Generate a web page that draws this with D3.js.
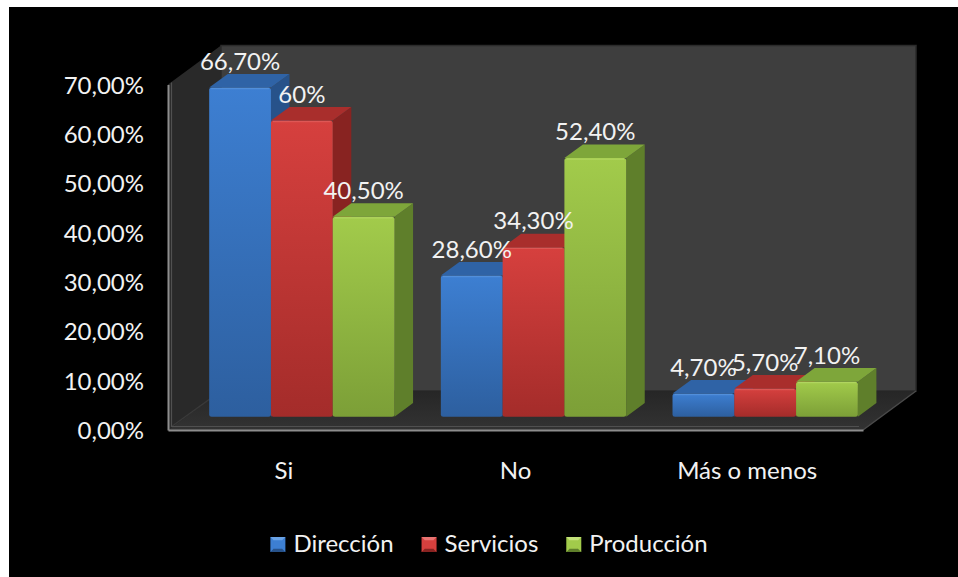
<!DOCTYPE html>
<html>
<head>
<meta charset="utf-8">
<script src="https://cdn.jsdelivr.net/npm/d3@7"></script>
<style>
  html, body { margin: 0; padding: 0; background: #ffffff; }
  svg { display: block; }
  text { font-family: Lato, "Open Sans", sans-serif; fill: #f2f2f2; }
</style>
</head>
<body>
<svg id="chart" width="958" height="577"></svg>
<script>
// ---- data ----
const categories = ["Si", "No", "Más o menos"];
const seriesNames = ["Dirección", "Servicios", "Producción"];
const direccion = [66.7, 28.6, 4.7];
const servicios = [60, 34.3, 5.7];
const produccion = [40.5, 52.4, 7.1];
const yTicks = [0, 10, 20, 30, 40, 50, 60, 70];

const seriesValues = [direccion, servicios, produccion];

// face colours per series: front gradient top/bottom, top face, side face, legend light
const palette = [
  { top: "#3d7fd2", bottom: "#2d5f9f", cap: "#2f63a6", side: "#27528a", light: "#6aa3e6" },
  { top: "#d6403e", bottom: "#a42c2a", cap: "#a92e2c", side: "#882321", light: "#e87472" },
  { top: "#a2cb4b", bottom: "#7c9f37", cap: "#7ea63a", side: "#5f7f2b", light: "#c4e27a" }
];

const svg = d3.select("#chart");
const W = 958, H = 577;

// frame: white margin, black chart area
svg.append("rect").attr("width", W).attr("height", H).attr("fill", "#ffffff");
svg.append("rect").attr("x", 9).attr("y", 7).attr("width", W - 9).attr("height", H - 7).attr("fill", "#000000");

// ---- scales ----
const x = d3.scaleBand().domain(categories).range([168, 863]).paddingInner(0.2).paddingOuter(0.1);
const xs = d3.scaleBand().domain(seriesNames).range([0, x.bandwidth()]);
const y = d3.scaleLinear().domain([0, 70]).range([430, 84.5]);

// oblique depth vector of the 3D box
const DX = 53, DY = -39;
const P = (px, py, d) => [px + d * DX, py + d * DY];
const pts = arr => arr.map(p => p.join(",")).join(" ");

const x0 = x.range()[0], x1 = x.range()[1];
const yTop = y(70), yBase = y(0);

const defs = svg.append("defs");
palette.forEach((c, i) => {
  const g = defs.append("linearGradient").attr("id", "front" + i)
    .attr("x1", 0).attr("y1", 0).attr("x2", 0).attr("y2", 1);
  g.append("stop").attr("offset", "0%").attr("stop-color", c.top);
  g.append("stop").attr("offset", "100%").attr("stop-color", c.bottom);
});
const fg = defs.append("linearGradient").attr("id", "floorGrad").attr("x1", 0).attr("y1", 0).attr("x2", 0).attr("y2", 1);
fg.append("stop").attr("offset", "0%").attr("stop-color", "#262626");
fg.append("stop").attr("offset", "100%").attr("stop-color", "#333333");

// ---- walls and floor ----
const walls = svg.append("g");
// back wall
walls.append("polygon")
  .attr("points", pts([P(x0, yTop, 1), P(x1, yTop, 1), P(x1, yBase, 1), P(x0, yBase, 1)]))
  .attr("fill", "#3e3e3e").attr("stroke", "#2b2b2b").attr("stroke-width", 1.5);
// left wall
walls.append("polygon")
  .attr("points", pts([[x0, yTop], P(x0, yTop, 1), P(x0, yBase, 1), [x0, yBase]]))
  .attr("fill", "#292929");
// floor
walls.append("polygon")
  .attr("points", pts([[x0, yBase], [x1, yBase], P(x1, yBase, 1), P(x0, yBase, 1)]))
  .attr("fill", "url(#floorGrad)");
// wall/floor seam
walls.append("line")
  .attr("x1", x0 + 3).attr("y1", yBase - 3)
  .attr("x2", P(x0, yBase, 1)[0]).attr("y2", P(x0, yBase, 1)[1])
  .attr("stroke", "#3a3a3a").attr("stroke-width", 1.5);
// inner edge lines of the wall/floor slabs
walls.append("polyline")
  .attr("points", pts([[x0 + 3.5, yTop - 2], [x0 + 3.5, yBase - 3.5], [x1 - 4, yBase - 3.5]]))
  .attr("fill", "none").attr("stroke", "#505050").attr("stroke-width", 1.2);
// floor right edge
walls.append("line")
  .attr("x1", x1).attr("y1", yBase).attr("x2", P(x1, yBase, 1)[0]).attr("y2", P(x1, yBase, 1)[1])
  .attr("stroke", "#4a4a4a").attr("stroke-width", 1.5);

// ---- bars ----
const D0 = 0.34, D1 = 0.69;
const bars = svg.append("g");
categories.forEach((cat, ci) => {
  seriesNames.forEach((s, si) => {
    const v = seriesValues[si][ci];
    const c = palette[si];
    const left = x(cat) + xs(s), right = left + xs.bandwidth();
    const t = y(v), b = y(0);
    const fl = P(left, t, D0), fr = P(right, t, D0), frb = P(right, b, D0), flb = P(left, b, D0);
    const bl = P(left, t, D1), br = P(right, t, D1), brb = P(right, b, D1);
    const g = bars.append("g");
    // side face
    g.append("polygon").attr("points", pts([fr, br, brb, frb])).attr("fill", c.side);
    // top face
    g.append("polygon").attr("points", pts([fl, bl, br, fr])).attr("fill", c.cap);
    // front face
    g.append("rect")
      .attr("x", fl[0]).attr("y", fl[1])
      .attr("width", fr[0] - fl[0]).attr("height", flb[1] - fl[1])
      .attr("rx", 2.5).attr("fill", `url(#front${si})`);
    // soft highlight along the front top edge
    g.append("line")
      .attr("x1", fl[0] + 2).attr("x2", fr[0] - 2).attr("y1", fl[1] + 1).attr("y2", fl[1] + 1)
      .attr("stroke", c.light).attr("stroke-opacity", 0.45).attr("stroke-width", 1.2);
  });
});

// ---- axes ----
const fmtLocale = d3.formatLocale({ decimal: ",", thousands: ".", grouping: [3], currency: ["", " €"] });
const fmt2 = fmtLocale.format(".2f");
const tickFmt = d => fmt2(d) + "%";
const labelFmt = v => Number.isInteger(v) ? v + "%" : fmt2(v) + "%";

const yAxis = svg.append("g").attr("transform", `translate(${x0},0)`)
  .call(d3.axisLeft(y).tickValues(yTicks).tickFormat(tickFmt).tickSize(0).tickSizeOuter(0).tickPadding(24));
yAxis.select(".domain").attr("stroke", "#8d8d8d").attr("stroke-width", 2);
yAxis.selectAll("text").attr("font-size", 24).attr("fill", "#f2f2f2")
  .attr("font-family", "Lato, 'Open Sans', sans-serif").attr("dy", "0.36em");

const xAxis = svg.append("g").attr("transform", `translate(0,${yBase})`)
  .call(d3.axisBottom(x).tickSize(0).tickSizeOuter(0).tickPadding(32));
xAxis.select(".domain").attr("stroke", "#8d8d8d").attr("stroke-width", 2.2);
xAxis.selectAll("text").attr("font-size", 24).attr("fill", "#f2f2f2")
  .attr("font-family", "Lato, 'Open Sans', sans-serif");

// ---- data labels ----
const labels = svg.append("g");
categories.forEach((cat, ci) => {
  seriesNames.forEach((s, si) => {
    const v = seriesValues[si][ci];
    const cx = x(cat) + xs(s) + xs.bandwidth() / 2 + D0 * DX;
    const ty = y(v) + D0 * DY;
    labels.append("text")
      .attr("x", cx).attr("y", ty - 18)
      .attr("text-anchor", "middle").attr("font-size", 24)
      .text(labelFmt(v));
  });
});

// ---- legend ----
const legend = svg.append("g");
const items = seriesNames.map((name, i) => {
  const g = legend.append("g");
  const txt = g.append("text").attr("x", 23).attr("y", 15).attr("font-size", 24).text(name);
  return { g, w: 23 + txt.node().getComputedTextLength(), i };
});
const gap = 28;
const total = d3.sum(items, d => d.w) + gap * (items.length - 1);
let lx = 489 - total / 2;
items.forEach(it => {
  const c = palette[it.i];
  it.g.attr("transform", `translate(${lx},537)`);
  const s = 15, k = 3.5;
  it.g.insert("polygon", "text").attr("points", pts([[0, 0], [s, 0], [s, s], [0, s]])).attr("fill", c.top);
  it.g.insert("polygon", "text").attr("points", pts([[0, 0], [s, 0], [s - k, k], [k, k]])).attr("fill", c.light);
  it.g.insert("polygon", "text").attr("points", pts([[0, s], [s, s], [s - k, s - k], [k, s - k]])).attr("fill", c.side);
  it.g.insert("polygon", "text").attr("points", pts([[k, k], [s - k, k], [s - k, s - k], [k, s - k]])).attr("fill", c.top);
  lx += it.w + gap;
});
</script>
</body>
</html>
